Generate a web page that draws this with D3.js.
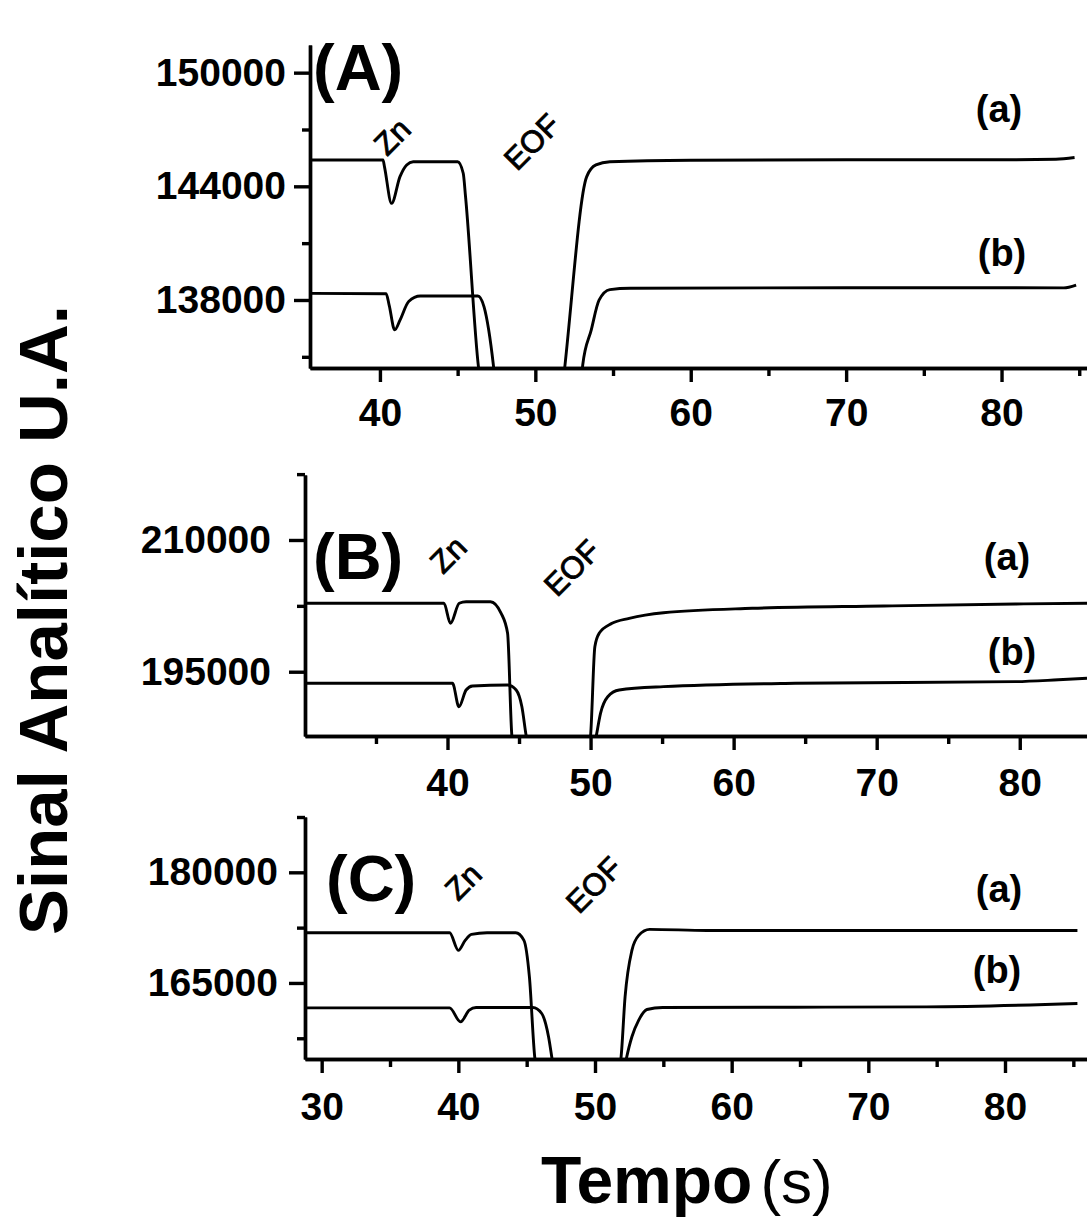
<!DOCTYPE html>
<html>
<head>
<meta charset="utf-8">
<script src="https://cdn.jsdelivr.net/npm/d3@7"></script>
<style>
body{margin:0;background:#fff}
text{font-family:"Liberation Sans",Arial,Helvetica,sans-serif}
</style>
</head>
<body>
<div id="chart"></div>
<script>
// [tempo (s), sinal]
const sigA_a=[[35.5,145390],[40.2,145390],[40.3,145000],[40.75,143100],[41.29,144510],[41.72,145130],[42.14,145300],[45.0,145300],[45.36,144690],[45.51,143450],[46.35,134400],[46.6,133000],[51.7,133000],[51.9,134500],[53.3,144500],[53.9,145130],[54.8,145300],[60,145380],[70,145400],[80,145400],[83.5,145430],[84.7,145520]]
const sigA_b=[[35.5,138350],[40.4,138330],[40.6,137700],[40.95,136420],[41.3,136950],[41.85,137920],[42.6,138210],[46.3,138210],[46.7,137640],[47.0,136420],[47.3,134570],[47.5,133000],[52.9,133000],[53.05,134570],[53.6,136420],[54.1,137990],[54.8,138550],[56.1,138620],[70,138650],[84.0,138640],[84.8,138790]]

const sigB_a=[[30.04,202790],[39.75,202790],[40.21,200510],[40.82,202790],[41.3,202970],[43.0,202970],[43.75,201650],[44.2,199370],[44.5,187700],[44.7,186000],[49.8,186000],[50.0,187700],[50.3,197850],[50.6,199370],[51.5,200510],[52.7,201080],[55.1,201720],[61.3,202220],[70.5,202480],[79.7,202710],[84.7,202790]]
const sigB_b=[[30.04,193680],[40.35,193680],[40.8,191010],[41.3,192920],[41.75,193380],[44.2,193490],[44.8,192920],[45.2,191010],[45.5,187700],[45.7,186000],[50.2,186000],[50.4,187700],[50.7,190280],[51.2,192150],[52.0,192920],[55.1,193300],[64.3,193680],[79.7,193870],[82.7,194080],[84.7,194250]]

const sigC_a=[[28.78,171800],[39.36,171800],[40.0,169420],[40.5,170770],[40.96,171580],[42.1,171800],[44.2,171800],[44.8,170770],[45.2,165810],[45.6,154800],[45.8,153000],[51.7,153000],[51.9,154800],[52.2,163110],[52.7,169420],[53.2,171450],[54.0,172260],[58.2,172120],[85.3,172120]]
const sigC_b=[[28.78,161620],[39.36,161620],[40.16,159730],[40.8,161310],[41.3,161670],[45.45,161670],[46.1,160860],[46.6,157700],[46.85,154800],[47.0,153000],[52.1,153000],[52.3,154800],[52.7,157700],[53.2,159960],[53.8,161400],[54.95,161670],[74.25,161760],[85.3,162220]]

// tick values
const yMajorA=[138000,144000,150000], yMinorA=[135000,141000,147000]
const yMajorB=[195000,210000], yMinorB=[202500,217500]
const yMajorC=[165000,180000], yMinorC=[157500,172500,187500]
const xMajorA=[40,50,60,70,80], xMinorA=[45,55,65,75,85]
const xMajorB=[40,50,60,70,80], xMinorB=[35,45,55,65,75]
const xMajorC=[30,40,50,60,70,80], xMinorC=[35,45,55,65,75,85]

const panelNames=['(A)','(B)','(C)']
const peakNames=['Zn','EOF']
const seriesNames=['(a)','(b)']

const W=1087,H=1221
let svg=d3.select('#chart').append('svg').attr('width',W).attr('height',H)

let panels=[
	{name:'A',left:310,top:45,bottom:368,xDom:[35.5,85.5],yDom:[134410,151460],series:[sigA_a,sigA_b],
	 yMajor:yMajorA,yMinor:yMinorA,xMajor:xMajorA,xMinor:xMinorA,yPad:8,xPad:16,
	 title:[313,90],zn:[387,157],eof:[517,172],lab:[[999,122],[1002,266]]},
	{name:'B',left:305,top:475,bottom:736,xDom:[30.04,84.7],yDom:[187680,217400],series:[sigB_a,sigB_b],
	 yMajor:yMajorB,yMinor:yMinorB,xMajor:xMajorB,xMinor:xMinorB,yPad:18,xPad:18,
	 title:[313,579],zn:[443,575],eof:[557,598],lab:[[1007,570],[1012,665]]},
	{name:'C',left:305,top:817,bottom:1059,xDom:[28.78,86.0],yDom:[154690,187500],series:[sigC_a,sigC_b],
	 yMajor:yMajorC,yMinor:yMinorC,xMajor:xMajorC,xMinor:xMinorC,yPad:11,xPad:19,
	 title:[326,901],zn:[458,902],eof:[579,915],lab:[[999,902],[997,983]]}
]

function styleAxis(g){
	g.select('.domain').attr('stroke','#000').attr('stroke-width',3.4)
	g.selectAll('.tick line').attr('stroke','#000').attr('stroke-width',3.4)
	g.selectAll('.tick text').attr('font-family','"Liberation Sans",Arial,sans-serif')
		.attr('font-size',39).attr('font-weight','bold').attr('fill','#000')
}

panels.forEach((p,i)=>{
	let x=d3.scaleLinear().domain(p.xDom).range([p.left,W])
	let y=d3.scaleLinear().domain(p.yDom).range([p.bottom,p.top])

	svg.append('clipPath').attr('id','clip'+p.name).append('rect')
		.attr('x',p.left).attr('y',p.top).attr('width',W-p.left).attr('height',p.bottom-p.top)

	let line=d3.line().x(d=>x(d[0])).y(d=>y(d[1])).curve(d3.curveMonotoneX)
	p.series.forEach(s=>{
		svg.append('path').datum(s).attr('d',line)
			.attr('clip-path','url(#clip'+p.name+')')
			.attr('fill','none').attr('stroke','#000').attr('stroke-width',2.9)
			.attr('stroke-linejoin','round')
	})

	// y axis, minor then major
	let gy1=svg.append('g').attr('transform','translate('+p.left+',0)')
		.call(d3.axisLeft(y).tickValues(p.yMinor).tickSize(8).tickSizeOuter(0).tickFormat(''))
	styleAxis(gy1)
	let gy2=svg.append('g').attr('transform','translate('+p.left+',0)')
		.call(d3.axisLeft(y).tickValues(p.yMajor).tickSize(16).tickSizeOuter(0).tickPadding(p.yPad).tickFormat(d3.format('d')))
	styleAxis(gy2)

	// x axis
	let gx1=svg.append('g').attr('transform','translate(0,'+p.bottom+')')
		.call(d3.axisBottom(x).tickValues(p.xMinor).tickSize(8).tickSizeOuter(0).tickFormat(''))
	styleAxis(gx1)
	let gx2=svg.append('g').attr('transform','translate(0,'+p.bottom+')')
		.call(d3.axisBottom(x).tickValues(p.xMajor).tickSize(14).tickSizeOuter(0).tickPadding(p.xPad).tickFormat(d3.format('d')))
	styleAxis(gx2)

	svg.append('text').attr('x',p.title[0]).attr('y',p.title[1])
		.attr('font-size',65).attr('font-weight','bold').text(panelNames[i])

	svg.append('text').attr('transform','translate('+p.zn[0]+','+p.zn[1]+') rotate(-45)')
		.attr('font-size',31).attr('stroke','#000').attr('stroke-width',0.9).text(peakNames[0])
	svg.append('text').attr('transform','translate('+p.eof[0]+','+p.eof[1]+') rotate(-45)')
		.attr('font-size',31).attr('stroke','#000').attr('stroke-width',0.9).text(peakNames[1])

	p.lab.forEach((l,j)=>{
		svg.append('text').attr('x',l[0]).attr('y',l[1]).attr('text-anchor','middle')
			.attr('font-size',38).attr('font-weight','bold').text(seriesNames[j])
	})
})

svg.append('text').attr('transform','translate(67,620) rotate(-90)')
	.attr('text-anchor','middle').attr('font-size',69).attr('font-weight','bold')
	.text('Sinal Analítico U.A.')

let xt=svg.append('text').attr('x',541).attr('y',1203)
xt.append('tspan').attr('font-size',66).attr('font-weight','bold').text('Tempo')
xt.append('tspan').attr('dx',8).attr('font-size',62).text('(s)')
</script>
</body>
</html>
